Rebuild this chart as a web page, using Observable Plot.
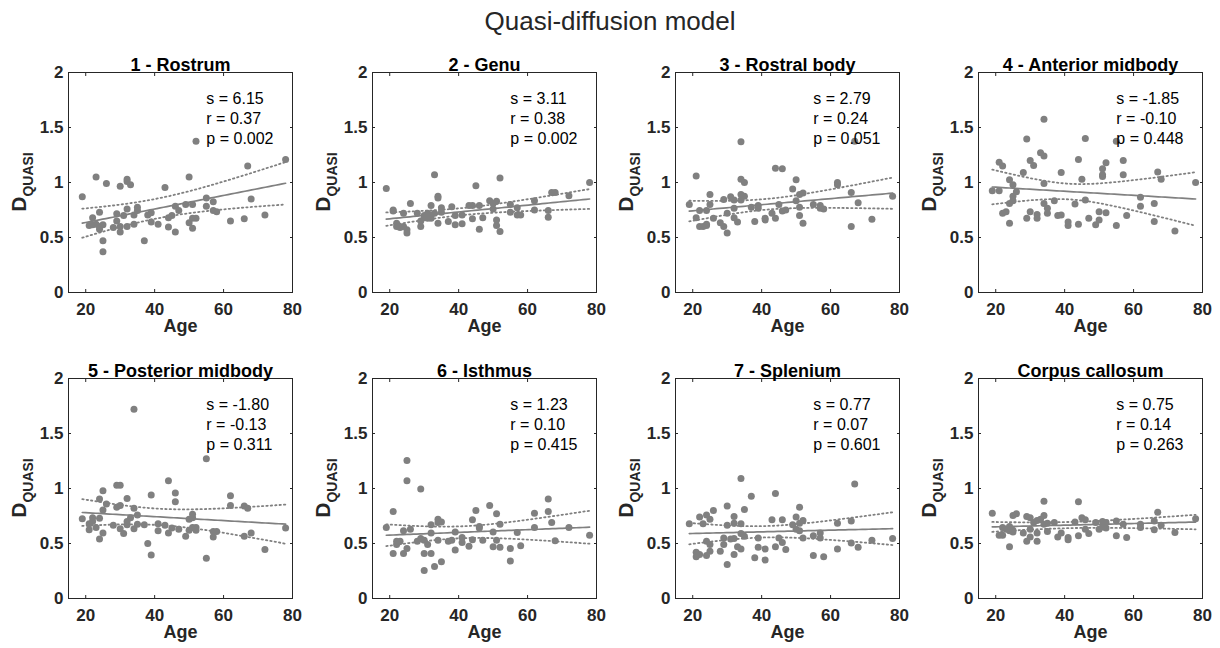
<!DOCTYPE html>
<html><head><meta charset="utf-8">
<script src="https://cdn.jsdelivr.net/npm/d3@7"></script>
<script src="https://cdn.jsdelivr.net/npm/@observablehq/plot@0.6"></script>
<style>
body{margin:0;background:#fff;}
#wrap{position:relative;width:1220px;height:648px;background:#fff;font-family:"Liberation Sans",Arial,sans-serif;overflow:hidden}
#title{position:absolute;left:0;width:1220px;top:5px;text-align:center;font-size:26px;color:#262626;line-height:32px}
.panel{position:absolute}
</style></head><body>
<div id="wrap"><div id="title">Quasi-diffusion model</div></div>
<script>
// ---------- data ----------
const panelTitles = ["1 - Rostrum","2 - Genu","3 - Rostral body","4 - Anterior midbody","5 - Posterior midbody","6 - Isthmus","7 - Splenium","Corpus callosum"];
const sLabels = ["6.15","3.11","2.79","-1.85","-1.80","1.23","0.77","0.75"];
const rLabels = ["0.37","0.38","0.24","-0.10","-0.13","0.10","0.07","0.14"];
const pLabels = ["0.002","0.002","0.051","0.448","0.311","0.415","0.601","0.263"];
const xTicks = [20,40,60,80];
const yTicks = [0,0.5,1,1.5,2];

// fitted line (value at youngest / oldest age) and 95% CI half-width there
const fitAges = [19, 78];
const fitStart = [0.630, 0.667, 0.740, 0.959, 0.782, 0.575, 0.590, 0.651];
const fitEnd   = [0.993, 0.850, 0.903, 0.850, 0.676, 0.648, 0.635, 0.695];
const ciStart  = [0.132, 0.061, 0.094, 0.158, 0.122, 0.099, 0.097, 0.045];
const ciEnd    = [0.193, 0.090, 0.142, 0.243, 0.178, 0.150, 0.149, 0.066];

const rostrum = [[19,0.87],[23,1.05],[26,0.99],[30,0.965],[32,1.03],[32,1.01],[33,0.98],[43,0.955],[50,1.05],[52,1.375],[67,1.15],[78,1.21],[68,0.85],[55,0.86],[57,0.825],[55,0.785],[51,0.80],[49,0.80],[46,0.785],[47,0.745],[57,0.745],[58,0.735],[62,0.65],[66,0.67],[72,0.705],[50,0.635],[51,0.675],[52,0.675],[51,0.585],[44,0.595],[46,0.55],[44,0.68],[45,0.70],[41,0.62],[39,0.64],[39,0.725],[38,0.705],[35,0.775],[35,0.745],[34,0.705],[34,0.62],[32,0.76],[31,0.70],[32,0.60],[30,0.60],[30,0.55],[29,0.715],[29,0.65],[28,0.59],[37,0.47],[25,0.47],[25,0.37],[24,0.73],[25,0.615],[24,0.575],[24,0.60],[22,0.68],[21,0.61],[22,0.615],[23,0.62]];
const genu = [[19,0.945],[21,0.75],[21,0.74],[22,0.63],[23,0.59],[22,0.60],[24,0.72],[25,0.57],[25,0.54],[24,0.60],[26,0.81],[28,0.72],[29,0.60],[29,0.65],[30,0.68],[30,0.70],[31,0.675],[31,0.72],[32,0.79],[32,0.705],[32,0.675],[33,1.07],[33,0.72],[34,0.875],[34,0.86],[34,0.63],[35,0.77],[35,0.73],[37,0.645],[38,0.78],[39,0.615],[39,0.70],[41,0.625],[41,0.705],[43,0.79],[44,0.79],[44,0.67],[45,0.97],[46,0.79],[46,0.575],[47,0.68],[49,0.835],[50,0.81],[50,0.76],[51,0.83],[52,1.04],[51,0.66],[51,0.61],[52,0.555],[55,0.80],[55,0.73],[57,0.77],[57,0.705],[58,0.705],[62,0.835],[62,0.75],[66,0.745],[66,0.685],[67,0.91],[68,0.91],[72,0.88],[78,1.0]];
const rostralBody = [[19,0.80],[21,1.06],[21,0.68],[22,0.745],[22,0.60],[23,0.60],[24,0.61],[24,0.62],[24,0.745],[25,0.89],[25,0.80],[26,0.675],[28,0.635],[29,0.60],[29,0.845],[30,0.54],[30,0.72],[31,0.87],[32,0.84],[32,0.765],[32,0.68],[33,0.64],[34,1.37],[34,1.03],[35,1.0],[34,0.89],[35,0.875],[34,0.84],[37,0.775],[38,0.645],[39,0.79],[39,0.765],[41,0.675],[41,0.66],[43,0.72],[44,1.13],[46,1.125],[44,0.675],[45,0.80],[46,0.74],[47,0.75],[49,0.94],[50,1.025],[50,0.835],[51,0.89],[52,0.905],[51,0.775],[51,0.70],[52,0.63],[55,0.80],[57,0.79],[57,0.765],[58,0.76],[62,1.0],[62,0.98],[66,0.91],[66,0.60],[67,1.375],[68,0.815],[72,0.665],[78,0.875]];
const anteriorMidbody = [[19,0.925],[21,0.925],[21,1.185],[22,1.15],[22,0.72],[23,0.735],[24,0.63],[24,1.025],[25,0.98],[24,0.81],[25,0.875],[25,0.835],[26,0.915],[28,1.09],[29,1.395],[29,0.675],[30,1.2],[31,1.155],[30,0.735],[32,0.71],[32,0.675],[33,1.27],[34,1.24],[34,1.575],[34,0.99],[34,0.81],[35,0.765],[35,0.72],[37,0.835],[38,0.70],[39,0.705],[39,1.09],[41,0.64],[41,0.61],[43,0.805],[44,1.21],[44,0.62],[45,1.03],[46,1.40],[46,0.84],[47,0.675],[49,0.615],[50,0.735],[50,0.66],[51,1.125],[51,1.07],[51,1.055],[52,1.18],[52,0.725],[55,1.375],[55,0.61],[57,1.2],[57,1.07],[58,0.70],[62,0.865],[62,0.785],[66,0.81],[66,0.645],[67,1.095],[68,1.03],[72,0.56],[78,1.0]];
const posteriorMidbody = [[19,0.725],[21,0.625],[21,0.68],[22,0.735],[22,0.70],[23,0.645],[24,0.905],[24,0.73],[24,0.54],[25,0.98],[25,0.805],[25,0.595],[26,0.86],[28,0.665],[29,1.03],[30,1.03],[29,0.83],[30,0.845],[30,0.635],[31,0.59],[32,0.91],[32,0.70],[32,0.67],[33,0.735],[34,1.72],[34,0.82],[34,0.635],[35,0.76],[35,0.675],[37,0.67],[38,0.50],[39,0.395],[39,0.94],[41,0.68],[41,0.615],[43,0.665],[44,1.07],[44,0.595],[45,0.64],[46,0.96],[46,0.88],[47,0.63],[49,0.565],[50,0.72],[50,0.62],[51,0.765],[51,0.735],[51,0.645],[52,0.62],[52,0.645],[55,1.27],[55,0.365],[57,0.61],[58,0.61],[57,0.56],[62,0.935],[62,0.845],[66,0.84],[67,0.82],[66,0.565],[68,0.595],[72,0.445],[78,0.64]];
const isthmus = [[19,0.645],[21,0.79],[21,0.41],[22,0.52],[22,0.49],[23,0.52],[24,0.615],[24,0.41],[25,1.255],[25,1.07],[25,0.455],[26,0.63],[28,0.52],[29,0.995],[29,0.545],[30,0.53],[30,0.41],[30,0.255],[31,0.49],[32,0.67],[32,0.595],[32,0.41],[33,0.29],[34,0.72],[35,0.695],[34,0.69],[34,0.53],[35,0.335],[37,0.52],[38,0.53],[39,0.605],[39,0.44],[41,0.555],[41,0.51],[43,0.475],[44,0.715],[44,0.535],[45,0.80],[46,0.655],[46,0.64],[47,0.53],[49,0.845],[50,0.605],[50,0.47],[51,0.77],[51,0.53],[52,0.675],[52,0.465],[55,0.455],[55,0.34],[57,0.60],[58,0.48],[62,0.775],[62,0.645],[66,0.905],[66,0.79],[67,0.69],[68,0.525],[72,0.645],[78,0.575]];
const splenium = [[19,0.68],[21,0.42],[21,0.38],[22,0.40],[22,0.74],[23,0.68],[24,0.76],[25,0.72],[24,0.52],[25,0.49],[24,0.39],[25,0.43],[26,0.80],[28,0.43],[29,0.55],[29,0.49],[30,0.84],[30,0.665],[30,0.31],[31,0.54],[32,0.745],[32,0.685],[32,0.545],[32,0.40],[33,0.47],[34,1.09],[34,0.68],[34,0.59],[34,0.45],[35,0.81],[35,0.565],[37,0.93],[38,0.37],[39,0.55],[39,0.465],[41,0.45],[41,0.35],[43,0.715],[44,0.955],[44,0.47],[45,0.55],[46,0.715],[46,0.51],[47,0.445],[49,0.67],[50,0.74],[50,0.63],[51,0.83],[51,0.685],[51,0.615],[52,0.71],[52,0.55],[55,0.57],[55,0.39],[57,0.595],[57,0.55],[58,0.38],[62,0.685],[62,0.45],[66,0.705],[66,0.505],[67,1.04],[68,0.465],[72,0.53],[78,0.545]];
const corpusCallosum = [[19,0.775],[21,0.575],[22,0.575],[22,0.645],[23,0.63],[24,0.47],[24,0.615],[25,0.62],[24,0.655],[25,0.755],[26,0.77],[25,0.605],[28,0.595],[29,0.52],[29,0.745],[30,0.735],[30,0.63],[30,0.56],[31,0.69],[32,0.52],[32,0.595],[32,0.71],[33,0.72],[34,0.885],[34,0.755],[34,0.675],[35,0.61],[35,0.685],[37,0.69],[38,0.56],[39,0.595],[41,0.555],[41,0.535],[43,0.695],[44,0.88],[44,0.57],[45,0.735],[46,0.715],[46,0.63],[47,0.59],[49,0.69],[50,0.63],[51,0.70],[52,0.69],[51,0.65],[52,0.64],[55,0.705],[55,0.57],[57,0.675],[58,0.555],[62,0.675],[62,0.645],[66,0.705],[66,0.625],[67,0.785],[68,0.665],[72,0.60],[78,0.725]];
const panelData = [rostrum, genu, rostralBody, anteriorMidbody, posteriorMidbody, isthmus, splenium, corpusCallosum];

// ---------- layout ----------
const FONT = '"Liberation Sans", Arial, sans-serif';
const BOXW = 224, BOXH = 220;
const ML = 68, MR = 10, MT = 40, MB = 46;
const boxLefts = [67.5, 371.5, 674.5, 978];
const boxTops = [71.5, 378];
const GRAY = "#808080", AX = "#262626";

// fitted line with hyperbolic confidence band (centred on the mean age of the panel)
function fitCurve(i, pts) {
  const [x0, x1] = fitAges;
  const m = d3.mean(pts, p => p[0]);
  const b = (fitEnd[i] - fitStart[i]) / (x1 - x0);
  const h0sq = ciStart[i] ** 2, h1sq = ciEnd[i] ** 2;
  const k = (h1sq - h0sq) / ((x1 - m) ** 2 - (x0 - m) ** 2);
  const c = Math.max(h0sq - k * (x0 - m) ** 2, 0.15 * h0sq);
  const steps = 60;
  return d3.range(steps + 1).map(j => {
    const x = x0 + (x1 - x0) * j / steps;
    const yh = fitStart[i] + b * (x - x0);
    const h = Math.sqrt(c + k * (x - m) ** 2);
    return {x, fit: yh, lo: yh - h, hi: yh + h};
  });
}

const wrap = document.getElementById("wrap");
panelData.forEach((pts, i) => {
  const col = i % 4, row = Math.floor(i / 4);
  const curve = fitCurve(i, pts);
  const annot = `s = ${sLabels[i]}\nr = ${rLabels[i]}\np = ${pLabels[i]}`;
  const plot = Plot.plot({
    width: ML + BOXW + MR, height: MT + BOXH + MB,
    marginLeft: ML, marginRight: MR, marginTop: MT, marginBottom: MB,
    style: {background: "transparent", fontFamily: FONT, overflow: "visible"},
    x: {domain: [15, 80]},
    y: {domain: [0, 2]},
    marks: [
      Plot.dot(pts, {x: d => d[0], y: d => d[1], r: 3.5, fill: GRAY, stroke: "none"}),
      Plot.line(curve, {x: "x", y: "lo", stroke: GRAY, strokeWidth: 1.8, strokeDasharray: "1.4,3"}),
      Plot.line(curve, {x: "x", y: "hi", stroke: GRAY, strokeWidth: 1.8, strokeDasharray: "1.4,3"}),
      Plot.line(curve, {x: "x", y: "fit", stroke: GRAY, strokeWidth: 1.7}),
      Plot.frame({stroke: AX, strokeWidth: 1}),
      Plot.axisX(xTicks, {anchor: "bottom", tickSize: 0, tickPadding: 10, fontSize: 17, fontWeight: "bold", fill: AX, label: null}),
      Plot.axisX(xTicks, {anchor: "bottom", tickSize: -3, fill: "none", stroke: AX, label: null}),
      Plot.axisX(xTicks, {anchor: "top", tickSize: -3, fill: "none", stroke: AX, label: null}),
      Plot.axisY(yTicks, {anchor: "left", tickSize: 0, tickPadding: 5, tickFormat: d => String(d), fontSize: 17, fontWeight: "bold", fill: AX, label: null}),
      Plot.axisY(yTicks, {anchor: "left", tickSize: -3, fill: "none", stroke: AX, label: null}),
      Plot.axisY(yTicks, {anchor: "right", tickSize: -3, fill: "none", stroke: AX, label: null}),
      Plot.text([panelTitles[i]], {frameAnchor: "top", dy: -14, fontSize: 18, fontWeight: "bold", fill: "#000"}),
      Plot.text(["Age"], {frameAnchor: "bottom", dy: 39, fontSize: 18, fontWeight: "bold", fill: AX}),
      Plot.text([annot], {x: 55, y: 1.59, textAnchor: "start", lineAnchor: "middle", lineHeight: 1.25, fontSize: 16, fill: "#000"})
    ]
  });
  const svg = d3.select(plot);
  const lab = svg.append("text")
    .attr("transform", `translate(${ML - 42.5},${MT + BOXH/2}) rotate(-90)`)
    .attr("text-anchor", "middle").attr("font-weight", "bold")
    .attr("fill", AX).attr("font-family", FONT);
  lab.append("tspan").attr("font-size", 21).text("D");
  lab.append("tspan").attr("font-size", 14).attr("dy", 7).text("QUASI");
  plot.classList.add("panel");
  plot.style.left = (boxLefts[col] - ML) + "px";
  plot.style.top = (boxTops[row] - MT) + "px";
  wrap.appendChild(plot);
});
</script>
</body></html>
